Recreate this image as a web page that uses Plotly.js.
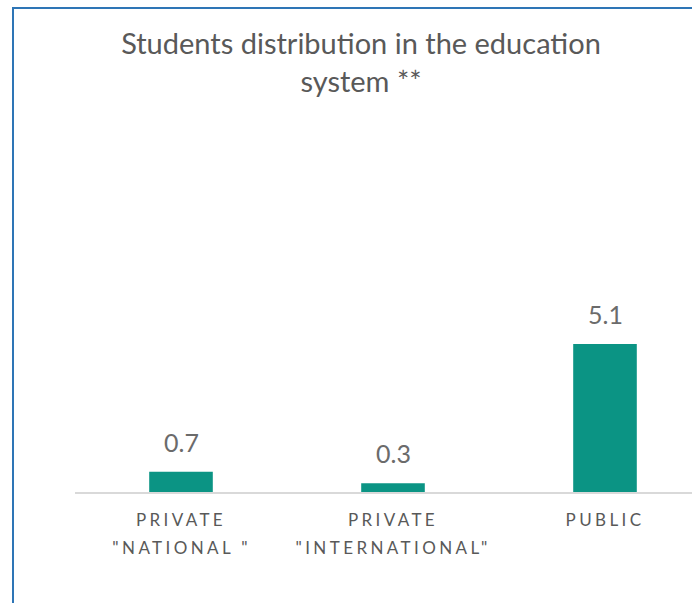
<!DOCTYPE html>
<html>
<head>
<meta charset="utf-8">
<script src="https://cdn.plot.ly/plotly-3.0.1.min.js"></script>
<style>
  html, body { margin:0; padding:0; width:692px; height:603px; overflow:hidden; background:#fff; }
  #chart { position:absolute; left:0; top:0; width:730px; height:603px; }
  #frame { position:absolute; left:12px; top:7px; width:720px; height:640px;
           border-left:2px solid #2E75B6; border-top:2px solid #2E75B6;
           pointer-events:none; z-index:10; }
  #chart .xtick text { letter-spacing:3.4px; }
  #chart .annotation[data-index="0"] text,
  #chart .annotation[data-index="1"] text,
  #chart .annotation[data-index="2"] text { letter-spacing:3.4px; }
</style>
</head>
<body>
<div id="chart"></div>
<div id="frame"></div>
<script>
const categories = ["PRIVATE \"NATIONAL \"", "PRIVATE \"INTERNATIONAL\"", "PUBLIC"];
const tickLine1 = ["PRIVATE", "PRIVATE", "PUBLIC"];
const tickLine2 = ["\"NATIONAL \"", "\"INTERNATIONAL\"", ""];
const values = [0.7, 0.3, 5.1];
const valueLabels = ["0.7", "0.3", "5.1"];

const textColor = "#595959";
const font = "Lato, 'Open Sans', sans-serif";

const annotations = [];
categories.forEach((c, i) => {
  annotations.push({
    x: c, y: 0, xref: "x", yref: "y",
    text: tickLine2[i], showarrow: false,
    yanchor: "middle", yshift: -55,
    font: { family: font, size: 17, color: textColor }
  });
});
categories.forEach((c, i) => {
  annotations.push({
    x: c, y: values[i], xref: "x", yref: "y",
    text: valueLabels[i], showarrow: false,
    yanchor: "middle", yshift: 30,
    font: { family: font, size: 25, color: "#6b6b6b" }
  });
});

const trace = {
  type: "bar",
  x: categories,
  y: values,
  width: 0.3,
  marker: { color: "#0B9484" },
  hoverinfo: "skip"
};

const layout = {
  width: 730, height: 603,
  margin: { l: 75, r: 19, t: 318, b: 111 },
  paper_bgcolor: "#ffffff",
  plot_bgcolor: "#ffffff",
  showlegend: false,
  title: {
    text: "Students distribution in the education<br>system **",
    font: { family: font, size: 29, color: textColor },
    x: 361 / 730, xref: "container", xanchor: "center",
    y: 1 - 54 / 603, yref: "container", yanchor: "top"
  },
  xaxis: {
    type: "category",
    categoryarray: categories,
    tickmode: "array",
    tickvals: categories,
    ticktext: tickLine1,
    ticks: "",
    ticklabelstandoff: 12,
    tickfont: { family: font, size: 17, color: textColor },
    showline: true, linecolor: "#D9D9D9", linewidth: 1.5,
    showgrid: false, zeroline: false, fixedrange: true
  },
  yaxis: {
    range: [0, 6],
    visible: false,
    showgrid: false, zeroline: false, fixedrange: true
  },
  annotations: annotations
};

Plotly.newPlot("chart", [trace], layout, { displayModeBar: false, staticPlot: true });
</script>
</body>
</html>
